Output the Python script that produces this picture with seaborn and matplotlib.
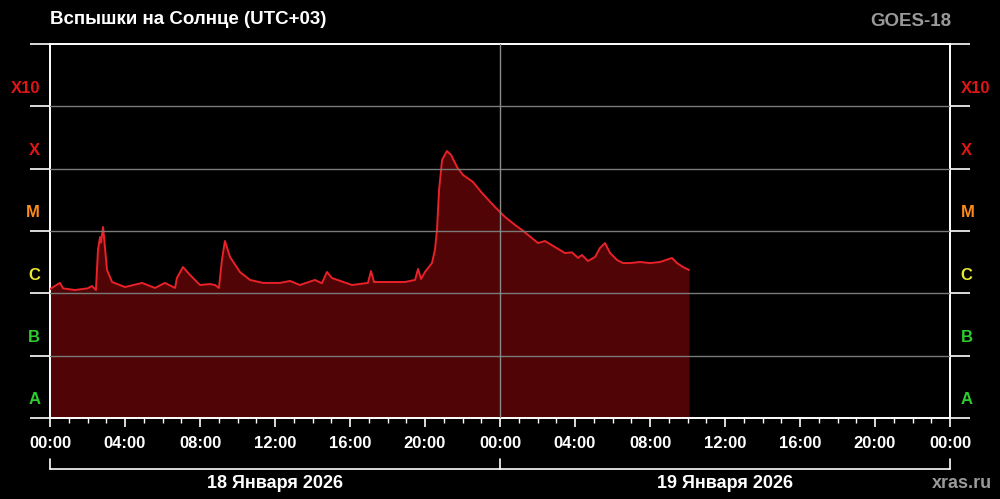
import numpy as np
import pandas as pd
import matplotlib
matplotlib.use('Agg')
import matplotlib.pyplot as plt
import matplotlib.transforms as mtransforms
import seaborn as sns

# GOES-18 X-ray flux, hours since 18 Jan 00:00 (UTC+03), W/m^2
hours = [0.0, 0.53, 0.7, 1.33, 2.0, 2.24, 2.45, 2.56, 2.67, 2.72, 2.83, 2.93, 3.04, 3.31,
         4.0, 4.91, 5.6, 6.13, 6.67, 6.77, 7.09, 7.47, 8.0, 8.53, 8.8, 9.01, 9.17,
         9.33, 9.6, 10.13, 10.67, 11.36, 12.27, 12.8, 13.33, 14.13, 14.5, 14.77,
         15.04, 16.11, 16.96, 17.12, 17.28, 17.87, 18.93, 19.47, 19.63, 19.79, 20.0,
         20.37, 20.53, 20.64, 20.75, 20.91, 21.17, 21.39, 21.71, 22.03, 22.56, 23.04,
         23.73, 24.27, 24.8, 25.17, 26.03, 26.4, 26.93, 27.47, 27.84, 28.16, 28.37,
         28.69, 29.07, 29.33, 29.6, 29.87, 30.24, 30.56, 30.93, 31.47, 32.0, 32.53,
         33.17, 33.44, 33.76, 34.08]
flux = [1.17e-6, 1.47e-6, 1.2e-6, 1.13e-6, 1.2e-6, 1.31e-6, 1.13e-6, 5.0e-6, 8.0e-6, 6.5e-6, 1.16e-5, 5.5e-6, 2.37e-6, 1.52e-6,
        1.26e-6, 1.47e-6, 1.22e-6, 1.47e-6, 1.22e-6, 1.76e-6, 2.64e-6, 1.97e-6, 1.36e-6, 1.41e-6, 1.36e-6, 1.22e-6, 3.43e-6,
        6.91e-6, 3.83e-6, 2.20e-6, 1.64e-6, 1.47e-6, 1.47e-6, 1.58e-6, 1.36e-6, 1.64e-6, 1.45e-6, 2.20e-6,
        1.76e-6, 1.36e-6, 1.47e-6, 2.28e-6, 1.52e-6, 1.52e-6, 1.52e-6, 1.64e-6, 2.46e-6, 1.70e-6, 2.20e-6,
        3.06e-6, 4.95e-6, 1.04e-5, 4.55e-5, 1.38e-4, 1.92e-4, 1.66e-4, 1.06e-4, 7.91e-5, 6.11e-5, 4.07e-5,
        2.43e-5, 1.68e-5, 1.25e-5, 1.04e-5, 6.41e-6, 6.91e-6, 5.53e-6, 4.43e-6, 4.54e-6, 3.70e-6, 4.12e-6,
        3.30e-6, 3.83e-6, 5.33e-6, 6.41e-6, 4.43e-6, 3.43e-6, 3.06e-6, 3.06e-6, 3.18e-6, 3.06e-6, 3.18e-6,
        3.69e-6, 3.06e-6, 2.64e-6, 2.37e-6]

band_names = ['A', 'B', 'C', 'M', 'X', 'X10']
band_colors = ['#2ecc2e', '#2ecc2e', '#e8e830', '#ff8a1c', '#e01515', '#e01515']
band_edges = [1e-8, 1e-7, 1e-6, 1e-5, 1e-4, 1e-3, 1e-2]
tick_hours = list(range(0, 49, 4))
tick_labels = ['00:00', '04:00', '08:00', '12:00', '16:00', '20:00',
               '00:00', '04:00', '08:00', '12:00', '16:00', '20:00', '00:00']
day_centers = [12, 36]
day_labels = ['18 Января 2026', '19 Января 2026']

df = pd.DataFrame({'hour': hours, 'flux': flux})

sns.set_theme(style='dark')
plt.rcParams['font.family'] = ['Liberation Sans', 'DejaVu Sans']

fig = plt.figure(figsize=(10, 4.99), dpi=100, facecolor='black')
ax = fig.add_axes([0.05, 81 / 499, 0.9, 374 / 499])
ax.set_facecolor('black')
ax.set_yscale('log')

ax.fill_between(df['hour'], df['flux'], band_edges[0], color='#500406', lw=0, zorder=2)
sns.lineplot(data=df, x='hour', y='flux', ax=ax, color='#e82228', lw=1.4, zorder=3)

for e in band_edges[1:-1]:
    ax.axhline(e, color='#7a7a7a', lw=1, zorder=4)
ax.axvline(24, color='#8a8a8a', lw=1, zorder=4)

ax.set_xlim(0, 48)
ax.set_ylim(band_edges[0], band_edges[-1])
ax.set_xlabel('')
ax.set_ylabel('')
ax.grid(False)

for s in ax.spines.values():
    s.set_visible(True)
    s.set_color('white')
    s.set_linewidth(1.4)

ax.yaxis.set_major_locator(matplotlib.ticker.FixedLocator(band_edges))
ax.yaxis.set_minor_locator(matplotlib.ticker.NullLocator())
ax.tick_params(axis='y', which='major', direction='out', length=14.5, width=1.2,
               color='white', left=True, right=True, labelleft=False, labelright=False)

ax.set_xticks(tick_hours)
ax.set_xticklabels(tick_labels)
ax.set_xticks(range(0, 49), minor=True)
ax.tick_params(axis='x', which='major', direction='out', length=6.5, width=1.2,
               color='white', labelcolor='white', labelsize=12, pad=6.5, bottom=True)
ax.tick_params(axis='x', which='minor', direction='out', length=3.5, width=1.0,
               color='white', bottom=True)
for t in ax.get_xticklabels():
    t.set_fontweight('bold')

# class letters sit in the lower part of each decade
ytr = mtransforms.blended_transform_factory(ax.transAxes, ax.transData)
for name, c, lo in zip(band_names, band_colors, band_edges[:-1]):
    ym = lo * 10 ** 0.29
    ax.text(-0.011, ym, name, transform=ytr, ha='right', va='center',
            color=c, fontsize=12, fontweight='bold')
    ax.text(1.012, ym, name, transform=ytr, ha='left', va='center',
            color=c, fontsize=12, fontweight='bold')

# day brackets under the time axis
xtr = mtransforms.blended_transform_factory(ax.transData, ax.transAxes)
yb, yt = -51 / 374, -41 / 374
ax.plot([0, 48], [yb, yb], transform=xtr, color='white', lw=1.2, clip_on=False)
for xv in (0, 24, 48):
    ax.plot([xv, xv], [yt, yb], transform=xtr, color='white', lw=1.2, clip_on=False)
for xc, lab in zip(day_centers, day_labels):
    ax.text(xc, -65 / 374, lab, transform=xtr, ha='center', va='center',
            color='white', fontsize=13, fontweight='bold')

fig.text(0.05, 1 - 19.5 / 499, 'Вспышки на Солнце (UTC+03)', ha='left', va='center',
         color='white', fontsize=13.5, fontweight='bold')
fig.text(0.951, 1 - 22 / 499, 'GOES-18', ha='right', va='center',
         color='#9a9a9a', fontsize=13.5, fontweight='bold')
fig.text(0.992, 1 - 483 / 499, 'xras.ru', ha='right', va='center',
         color='#9a9a9a', fontsize=13, fontweight='bold')

fig.savefig('out.png', dpi=100, facecolor='black')
